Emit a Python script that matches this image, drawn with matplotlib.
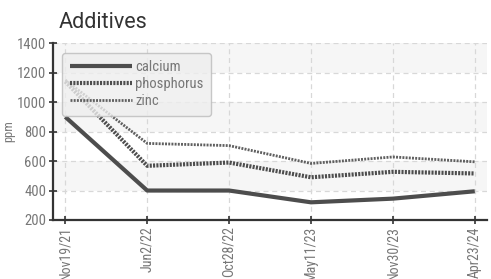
import matplotlib
matplotlib.use("Agg")
import matplotlib.pyplot as plt
from matplotlib import font_manager

dates = ["Nov19/21", "Jun2/22", "Oct28/22", "May11/23", "Nov30/23", "Apr23/24"]
calcium = [900, 400, 400, 320, 345, 395]
phosphorus = [1140, 568, 590, 490, 527, 516]
zinc = [1150, 720, 705, 584, 628, 595]
yticks = [200, 400, 600, 800, 1000, 1200, 1400]

names = {f.name for f in font_manager.fontManager.ttflist}
cond = [f for f in ["Liberation Sans Narrow", "Roboto Condensed", "Roboto"] if f in names]
fam = cond + ["DejaVu Sans"]

fig = plt.figure(figsize=(4.91, 2.79), dpi=100)
ax = fig.add_axes([0.108, 0.2115, 0.884, 0.6335])

x = list(range(len(dates)))
for i, (a, b) in enumerate(zip(yticks[:-1], yticks[1:])):
    if i % 2 == 1:
        ax.axhspan(a, b, color="#f6f6f6", zorder=0, lw=0)
ax.grid(True, color="#d8d8d8", linestyle=(0, (4, 3)), linewidth=0.9, zorder=1)

ax.plot(x, calcium, color="#4d4d4d", lw=3.0, label="calcium", zorder=3, solid_capstyle="butt")
ax.plot(x, phosphorus, color="#4d4d4d", lw=3.0, linestyle=(0, (0.5, 0.3)), label="phosphorus", zorder=3)
ax.plot(x, zinc, color="#5f5f5f", lw=2.0, linestyle=(0, (0.7, 0.45)), label="zinc", zorder=3)

ax.set_xlim(-0.15, 5.15)
ax.set_ylim(200, 1400)
ax.set_yticks(yticks)
ax.set_xticks(x)
ax.set_xticklabels(dates, rotation=90, family=fam, fontsize=10, color="#777777")
ax.set_yticklabels([str(v) for v in yticks], family=fam, fontsize=10.5, color="#777777")
ax.tick_params(axis="both", direction="inout", length=6, width=1.2, color="#333333", pad=2)
ax.tick_params(axis="x", pad=1.5)

for s in ["top", "right"]:
    ax.spines[s].set_visible(False)
for s in ["left", "bottom"]:
    ax.spines[s].set_color("#333333")
    ax.spines[s].set_linewidth(1.6)

ax.set_ylabel("ppm", family=fam, fontsize=9, color="#777777", labelpad=1)
fig.text(0.12, 0.898, "Additives", fontsize=15.5, color="#333333", family=["Roboto", "DejaVu Sans"])

leg = ax.legend(loc="upper left", bbox_to_anchor=(0.005, 0.985), prop={"family": fam, "size": 10.5},
                frameon=True, fancybox=True, shadow=False, handlelength=4.3, handletextpad=0.2,
                labelspacing=0.2, borderpad=0.5, labelcolor="#777777")
leg.get_frame().set_facecolor("#eeeeee")
leg.get_frame().set_alpha(0.8)
leg.get_frame().set_edgecolor("#bbbbbb")

fig.savefig("out.png", dpi=100)
